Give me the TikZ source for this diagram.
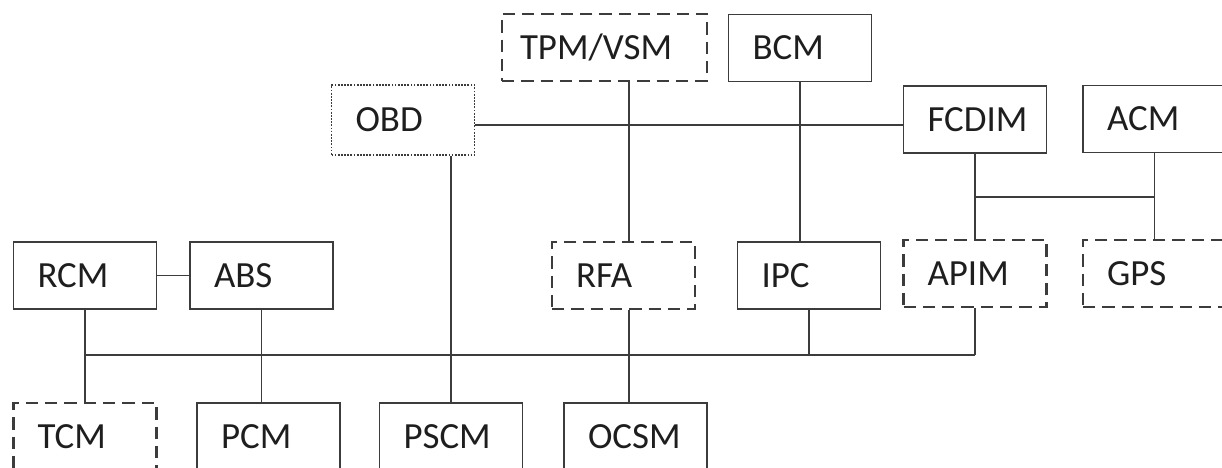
\documentclass[tikz,border=0pt]{standalone}
\usepackage{fontspec}
\setmainfont{Carlito}
\usepackage{tikz}
\definecolor{lineGray}{RGB}{60,60,60}
\definecolor{textDark}{RGB}{30,30,30}

\begin{document}
\begin{tikzpicture}[
      box/.style={draw=lineGray, line width=1.1pt, minimum width=2.86cm,
                  minimum height=1.34cm, inner xsep=0.48cm, inner ysep=0pt,
                  text width=1.9cm, align=left, text=textDark,
                  font=\fontsize{21}{25}\selectfont},
      dbox/.style={box, line width=1.3pt, dash pattern=on 7pt off 4pt},
      obox/.style={box, dash pattern=on 1pt off 0.8pt},
      link/.style={draw=lineGray, line width=0.8pt}
    ]
    \useasboundingbox (0,0) rectangle (24.44,-9.34);

    \node[dbox, minimum width=4.1cm, text width=3.38cm, inner xsep=0.36cm] (tpm) at (12.09,-0.95) {TPM/VSM};
    \node[box]  (bcm)   at (16.00,-0.96) {BCM};
    \node[obox, minimum height=1.40cm] (obd) at (8.06,-2.40) {OBD};
    \node[box]  (fcdim) at (19.50,-2.39) {FCDIM};
    \node[box]  (acm)   at (23.09,-2.38) {ACM};

    \node[box]  (rcm)   at (1.70,-5.51)  {RCM};
    \node[box]  (abs)   at (5.23,-5.51)  {ABS};
    \node[dbox] (rfa)   at (12.47,-5.51) {RFA};
    \node[box]  (ipc)   at (16.18,-5.51) {IPC};
    \node[dbox] (apim)  at (19.50,-5.47) {APIM};
    \node[dbox] (gps)   at (23.09,-5.47) {GPS};

    \node[dbox] (tcm)   at (1.70,-8.73)  {TCM};
    \node[box]  (pcm)   at (5.37,-8.73)  {PCM};
    \node[box]  (pscm)  at (9.02,-8.73)  {PSCM};
    \node[box]  (ocsm)  at (12.71,-8.73) {OCSM};

    \coordinate (bus)  at (0,-7.10);
    \coordinate (jn)   at (0,-3.94);
    \coordinate (tpmx) at (12.58,0);

    \draw[link] ([yshift=-0.1cm]obd.east) -- ([yshift=-0.1cm]obd.east -| fcdim.west);
    \draw[link] (tpmx |- tpm.south) -- (tpmx |- rfa.north);
    \draw[link] (tpmx |- rfa.south) -- (tpmx |- ocsm.north);
    \draw[link] (bcm.south) -- (bcm.south |- ipc.north);
    \draw[link] (pscm.north |- obd.south) -- (pscm.north);
    \draw[link] (fcdim.south) -- (fcdim.south |- apim.north);
    \draw[link] (acm.south) -- (acm.south |- gps.north);
    \draw[link] (fcdim.south |- jn) -- (acm.south |- jn);

    \draw[link] (rcm.east) -- (abs.west);
    \draw[link] (rcm.south) -- (rcm.south |- tcm.north);
    \draw[link] (abs.south) -- (abs.south |- pcm.north);
    \draw[link] (ipc.south) -- (ipc.south |- bus);
    \draw[link] (apim.south) -- (apim.south |- bus);
    \draw[link] (rcm.south |- bus) -- (apim.south |- bus);
  \end{tikzpicture}
\end{document}
